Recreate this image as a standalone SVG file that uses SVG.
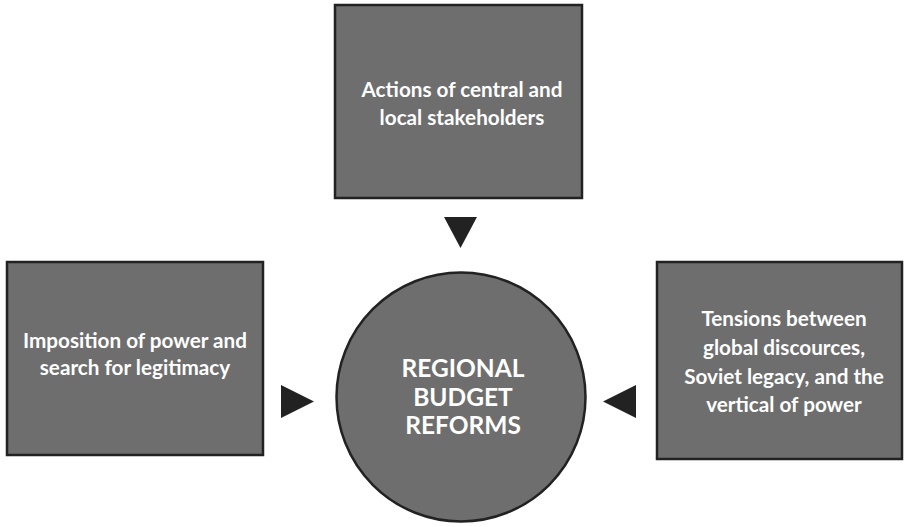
<svg xmlns="http://www.w3.org/2000/svg" width="905" height="527" viewBox="0 0 905 527">
  <style>
    .box { fill: #6e6e6e; stroke: #222222; stroke-width: 2.5; }
    .lbl { fill: #ffffff; font-family: Lato, "Open Sans", "Liberation Sans", sans-serif; font-weight: 700; font-size: 20.7px; text-anchor: middle; }
    .big { font-size: 24.5px; }
    .tri { fill: #222222; }
  </style>
  <rect width="905" height="527" fill="#ffffff"/>

  <g id="actions">
    <rect class="box" x="335" y="5" width="247" height="193"/>
    <text class="lbl" x="462" y="97">Actions of central and</text>
    <text class="lbl" x="462" y="125">local stakeholders</text>
  </g>

  <g id="imposition">
    <rect class="box" x="7" y="262" width="256" height="193"/>
    <text class="lbl" x="135" y="348">Imposition of power and</text>
    <text class="lbl" x="135" y="375">search for legitimacy</text>
  </g>

  <g id="tensions">
    <rect class="box" x="657" y="262" width="245" height="197"/>
    <text class="lbl" x="784" y="326">Tensions between</text>
    <text class="lbl" x="784" y="355">global discources,</text>
    <text class="lbl" x="784" y="384">Soviet legacy, and the</text>
    <text class="lbl" x="784" y="412">vertical of power</text>
  </g>

  <g id="reforms">
    <circle class="box" cx="461" cy="397" r="124.5"/>
    <text class="lbl big" x="463" y="377">REGIONAL</text>
    <text class="lbl big" x="463" y="405.5">BUDGET</text>
    <text class="lbl big" x="463" y="434">REFORMS</text>
  </g>

  <g id="connectors">
    <polygon class="tri" points="444,217 477,217 460.5,248"/>
    <polygon class="tri" points="281,385 281,418 314,401.5"/>
    <polygon class="tri" points="636,385 636,418 603,401.5"/>
  </g>
</svg>
